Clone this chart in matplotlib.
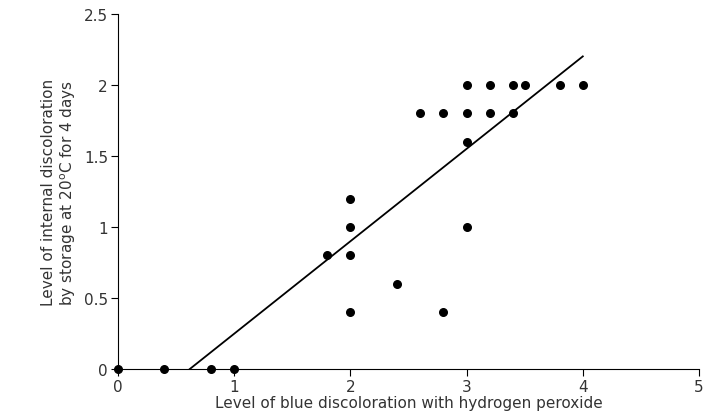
import matplotlib.pyplot as plt
import numpy as np

x_vals = [0, 0.4, 0.8, 1.0, 1.8, 2.0, 2.0, 2.0, 2.0, 2.4, 2.8,
          2.6, 2.8, 3.0, 3.0, 3.0, 3.0, 3.2, 3.2, 3.4, 3.4, 3.5, 3.8, 4.0]
y_vals = [0, 0, 0, 0, 0.8, 1.2, 1.0, 0.8, 0.4, 0.6, 0.4,
          1.8, 1.8, 2.0, 1.8, 1.6, 1.0, 2.0, 1.8, 2.0, 1.8, 2.0, 2.0, 2.0]
fit_x = [0.62, 4.0]
fit_slope = 0.651
fit_intercept = -0.403

fig = plt.figure(figsize=(7.09, 4.14), dpi=100)
ax = fig.add_axes([0.166, 0.106, 0.82, 0.858])
ax.scatter(x_vals, y_vals, s=30, color="black", zorder=3, clip_on=False)
fx = np.array(fit_x)
ax.plot(fx, fit_slope * fx + fit_intercept, color="black", lw=1.3)
ax.set_xlim(0, 5)
ax.set_ylim(0, 2.5)
ax.set_xticks([0, 1, 2, 3, 4, 5])
ax.set_yticks([0, 0.5, 1, 1.5, 2, 2.5])
ax.set_yticklabels(["0", "0.5", "1", "1.5", "2", "2.5"])
ax.spines["top"].set_visible(False)
ax.spines["right"].set_visible(False)
ax.tick_params(labelsize=11, direction="out", length=5, pad=2, labelcolor="#333333")
ax.set_xlabel("Level of blue discoloration with hydrogen peroxide", fontsize=11,
              color="#333333", labelpad=1)
ax.set_ylabel("Level of internal discoloration\nby storage at 20$^{\\rm o}$C for 4 days",
              fontsize=11, color="#333333")
fig.savefig("out.png", dpi=100)
